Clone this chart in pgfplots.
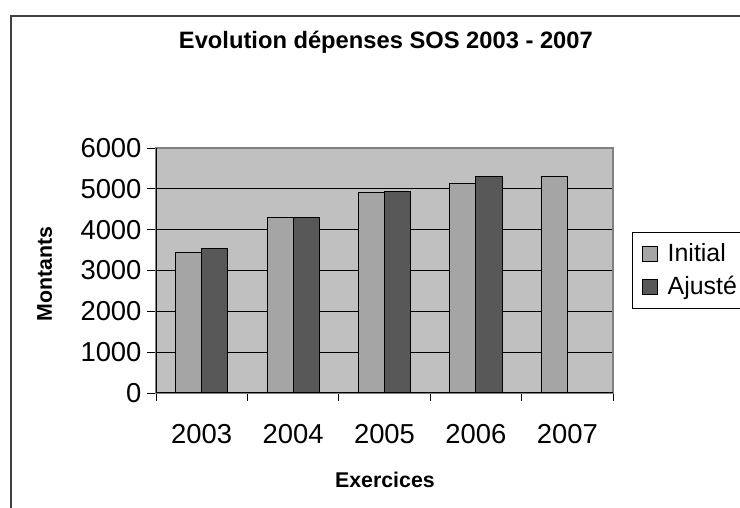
\documentclass[border=0pt]{standalone}
\usepackage{pgfplots}
\pgfplotsset{compat=1.18}
\usepackage{fontspec}
\setmainfont{Liberation Sans}
\definecolor{bgc}{HTML}{C0C0C0}
\definecolor{ini}{HTML}{A5A5A5}
\definecolor{aju}{HTML}{585858}
\definecolor{frm}{HTML}{404040}
\definecolor{brd}{HTML}{808080}
\begin{document}
\begin{tikzpicture}[x=1bp,y=1bp]
\useasboundingbox (0,0) rectangle (740,508);
\clip (0,0) rectangle (740,508);
\draw[frm,line width=1.5bp] (11,-5) -- (11,492) -- (745,492);
\begin{axis}[
  at={(156bp,115bp)}, anchor=south west,
  width=457bp, height=245bp, scale only axis,
  xmin=-0.5, xmax=4.5, ymin=0, ymax=6000,
  ybar=0pt, bar width=26.1bp,
  axis background/.style={fill=bgc},
  axis line style={draw=brd, line width=1.2bp},
  ymajorgrids, major grid style={draw=black, line width=0.8bp},
  xtick={0,...,4}, xticklabels={2003,2004,2005,2006,2007},
  minor xtick={-0.5,0.5,...,4.5},
  ytick={0,1000,...,6000},
  tick pos=left,
  tick align=outside,
  major x tick style={draw=none},
  minor x tick style={draw=black, line width=0.8bp},
  major y tick style={draw=black, line width=0.8bp},
  major tick length=9bp, minor tick length=8bp,
  /pgf/number format/assume math mode=true,
  /pgf/number format/1000 sep={},
  ticklabel style={font=\fontsize{27.5}{30}\selectfont},
  xticklabel style={yshift=-19bp},
  yticklabel style={xshift=-2bp},
  title={\textbf{Evolution dépenses SOS 2003 - 2007}},
  title style={font=\fontsize{23.8}{26}\selectfont, at={(axis description cs:0.503,1.408)}, anchor=center},
  xlabel={\textbf{Exercices}},
  xlabel style={font=\fontsize{21.4}{24}\selectfont, at={(axis description cs:0.501,-0.355)}, anchor=center},
  ylabel={\textbf{Montants}},
  ylabel style={font=\fontsize{21.4}{24}\selectfont, at={(axis description cs:-0.2435,0.486)}, anchor=center, rotate=0},
  legend style={at={(axis description cs:1.0416,0.657)}, anchor=north west,
    draw=black, fill=white, line width=0.8bp,
    font=\fontsize{25}{27}\selectfont,
    inner xsep=9.5bp, inner ysep=9bp, row sep=8bp,
    nodes={inner sep=0pt, text height=20bp, text depth=5bp},
    /tikz/every odd column/.append style={column sep=10bp}},
  legend cell align=left,
  legend image code/.code={\draw[#1, draw=black, line width=0.8bp] (0bp,-7.5bp) rectangle (15bp,7.5bp);},
]
\addplot[fill=ini, draw=black, line width=1bp] coordinates {(0,3450) (1,4300) (2,4900) (3,5120) (4,5290)};
\addplot[fill=aju, draw=black, line width=1bp] coordinates {(0,3530) (1,4300) (2,4940) (3,5290)};
\legend{\makebox[100bp][l]{Initial}, \makebox[100bp][l]{Ajusté}}
\draw[black, line width=1bp] (rel axis cs:0,1) -- (rel axis cs:0,0) -- (rel axis cs:1,0);
\end{axis}
\end{tikzpicture}
\end{document}
